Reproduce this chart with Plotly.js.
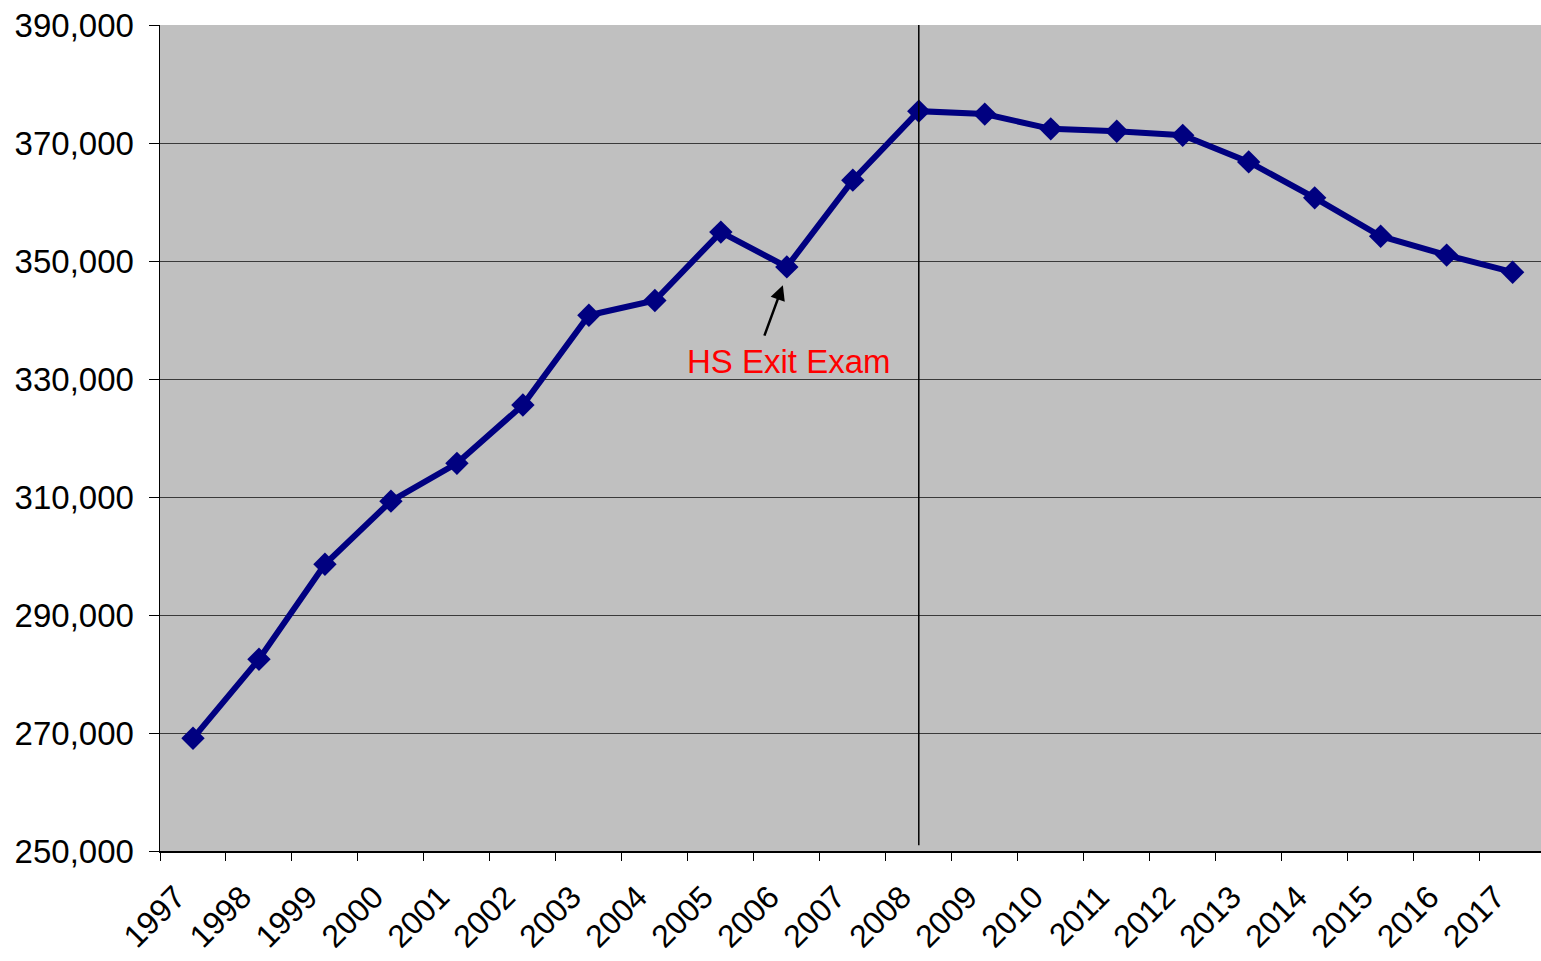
<!DOCTYPE html>
<html>
<head>
<meta charset="utf-8">
<script src="https://cdn.plot.ly/plotly-3.0.1.min.js"></script>
<style>
html,body{margin:0;padding:0;background:#fff;}
#chart{width:1541px;height:961px;}
</style>
</head>
<body>
<div id="chart"></div>
<script>
var years = ["1997","1998","1999","2000","2001","2002","2003","2004","2005","2006","2007","2008","2009","2010","2011","2012","2013","2014","2015","2016","2017"];
var enrollment = [269100, 282500, 298600, 309300, 315700, 325600, 340800, 343300, 354900, 349000, 363700, 375400, 374900, 372400, 372000, 371300, 366800, 360700, 354200, 351000, 348100];
var yTicks = [250000, 270000, 290000, 310000, 330000, 350000, 370000, 390000];
var markerYear = "2008";
var noteText = "HS Exit Exam";
var noteYear = "2006";

var trace = {
  x: years,
  y: enrollment,
  type: "scatter",
  mode: "lines+markers",
  line: {color: "#000080", width: 6},
  marker: {symbol: "diamond", size: 18, color: "#000080"},
  hoverinfo: "x+y"
};

var noteIdx = years.indexOf(noteYear);
var layout = {
  width: 1541,
  height: 961,
  margin: {l: 160, r: 0, t: 25, b: 110},
  paper_bgcolor: "#ffffff",
  plot_bgcolor: "#c0c0c0",
  showlegend: false,
  font: {family: "Liberation Sans, Arial, sans-serif", size: 33, color: "#000"},
  xaxis: {
    type: "category",
    range: [-0.5, 20.43],
    tickangle: -45,
    tickson: "boundaries",
    ticks: "outside",
    ticklen: 8,
    tickcolor: "#000",
    showline: true,
    linecolor: "#000",
    linewidth: 1.5,
    showgrid: false,
    zeroline: false,
    ticklabelstandoff: 13,
    ticklabelshift: -17,
    tickfont: {size: 32}
  },
  yaxis: {
    range: [250000, 390000],
    tickvals: yTicks,
    ticktext: yTicks.map(function(v){return v.toLocaleString("en-US");}),
    ticks: "outside",
    ticklen: 10,
    tickcolor: "#000",
    showline: true,
    linecolor: "#000",
    linewidth: 1.5,
    showgrid: true,
    gridcolor: "#3a3a3a",
    gridwidth: 1,
    zeroline: false,
    ticklabelstandoff: 8,
    tickfont: {size: 33}
  },
  shapes: [{
    type: "line",
    xref: "x", yref: "paper",
    x0: years.indexOf(markerYear), x1: years.indexOf(markerYear),
    y0: 0.007, y1: 1,
    line: {color: "#000", width: 1.5}
  }],
  annotations: [
    {
      xref: "x", yref: "y",
      x: noteIdx - 0.06, y: 345900,
      text: "",
      showarrow: true,
      arrowhead: 2,
      arrowsize: 1.2,
      arrowwidth: 2.5,
      arrowcolor: "#000",
      axref: "pixel", ayref: "pixel",
      ax: -19, ay: 52
    },
    {
      xref: "x", yref: "y",
      x: noteIdx + 0.03, y: 333000,
      text: noteText,
      showarrow: false,
      font: {size: 33, color: "#ff0000"},
      xanchor: "center", yanchor: "middle"
    }
  ]
};

Plotly.newPlot("chart", [trace], layout, {displayModeBar: false, staticPlot: true});
</script>
</body>
</html>
